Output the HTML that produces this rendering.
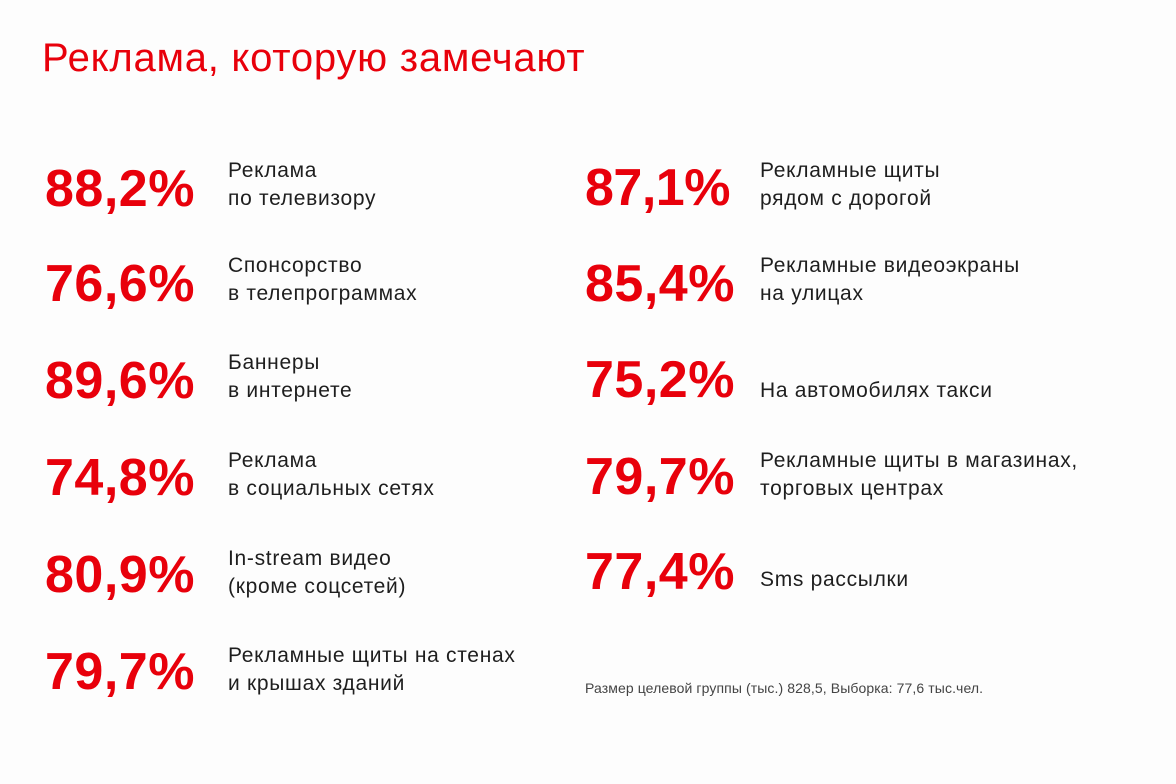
<!DOCTYPE html>
<html><head><meta charset="utf-8"><style>
body{margin:0;width:1176px;height:784px;background:#fdfdfd;position:relative;overflow:hidden;font-family:"Liberation Sans","DejaVu Sans",sans-serif}
.t{position:absolute;left:42px;top:38px;font-size:40px;color:#e8000b;letter-spacing:0.75px;line-height:40px;white-space:nowrap}
.n{position:absolute;font-size:52px;font-weight:bold;color:#e8000b;line-height:52px;white-space:nowrap;letter-spacing:0.5px}
.l{position:absolute;font-size:21px;line-height:28px;color:#1e1e1e;white-space:nowrap;letter-spacing:0.7px}
.f{position:absolute;left:585px;top:680px;font-size:14px;color:#444;white-space:nowrap;letter-spacing:0.1px}
</style></head><body>
<div class="t">Реклама, которую замечают</div>

<div class="n" style="left:45px;top:163px">88,2%</div>
<div class="l" style="left:228px;top:157px">Реклама<br>по телевизору</div>
<div class="n" style="left:45px;top:258px">76,6%</div>
<div class="l" style="left:228px;top:252px">Спонсорство<br>в телепрограммах</div>
<div class="n" style="left:45px;top:355px">89,6%</div>
<div class="l" style="left:228px;top:349px">Баннеры<br>в интернете</div>
<div class="n" style="left:45px;top:452px">74,8%</div>
<div class="l" style="left:228px;top:447px">Реклама<br>в социальных сетях</div>
<div class="n" style="left:45px;top:549px">80,9%</div>
<div class="l" style="left:228px;top:545px">In-stream видео<br>(кроме соцсетей)</div>
<div class="n" style="left:45px;top:646px">79,7%</div>
<div class="l" style="left:228px;top:642px">Рекламные щиты на стенах<br>и крышах зданий</div>

<div class="n" style="left:585px;top:162px;letter-spacing:-0.5px">87,1%</div>
<div class="l" style="left:760px;top:157px">Рекламные щиты<br>рядом с дорогой</div>
<div class="n" style="left:585px;top:258px">85,4%</div>
<div class="l" style="left:760px;top:252px">Рекламные видеоэкраны<br>на улицах</div>
<div class="n" style="left:585px;top:354px">75,2%</div>
<div class="l" style="left:760px;top:377px">На автомобилях такси</div>
<div class="n" style="left:585px;top:451px">79,7%</div>
<div class="l" style="left:760px;top:447px">Рекламные щиты в магазинах,<br>торговых центрах</div>
<div class="n" style="left:585px;top:546px">77,4%</div>
<div class="l" style="left:760px;top:566px">Sms рассылки</div>

<div class="f">Размер целевой группы (тыс.) 828,5, Выборка: 77,6 тыс.чел.</div>
</body></html>
